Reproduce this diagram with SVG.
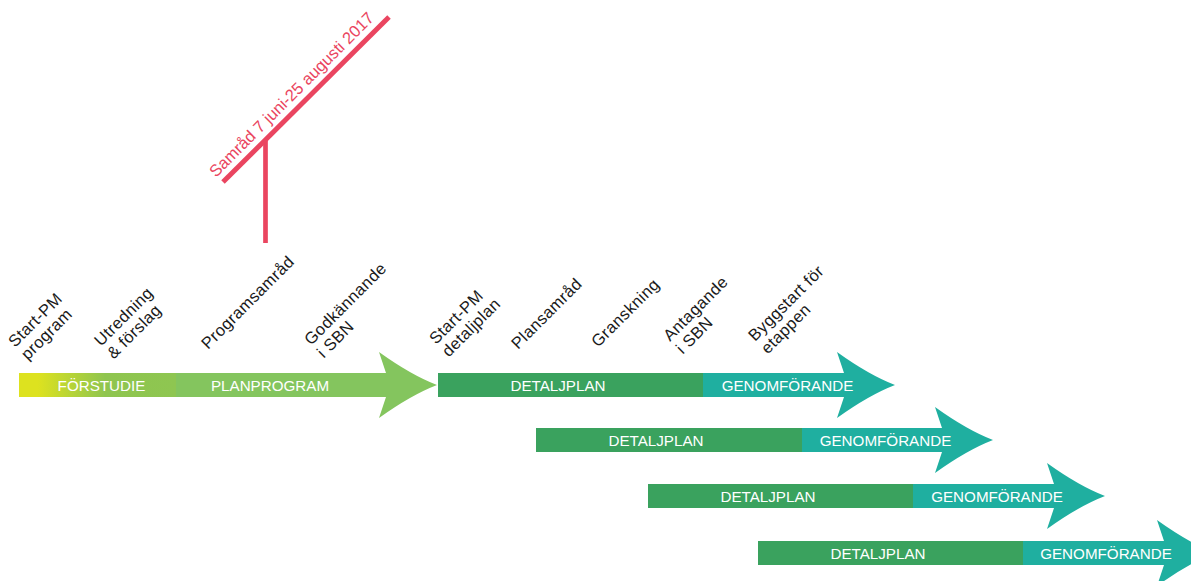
<svg xmlns="http://www.w3.org/2000/svg" width="1191" height="581" viewBox="0 0 1191 581">
<style>
.lbl{font-family:"Liberation Sans",Arial,sans-serif;font-size:16.5px;letter-spacing:0.4px;fill:#1a1a1a}
.bar{font-family:"Liberation Sans",Arial,sans-serif;font-size:15.2px;fill:#ffffff;text-anchor:middle}
.pink{font-family:"Liberation Sans",Arial,sans-serif;font-size:16.5px;fill:#ea4560}
.det{fill:#3aa25e}
.gen{fill:#1fafa0}
.plan{fill:#84c55e}
</style>
<defs>
<linearGradient id="fs" gradientUnits="userSpaceOnUse" x1="19" y1="0" x2="176" y2="0">
<stop offset="0.12" stop-color="#dde21f"/>
<stop offset="0.55" stop-color="#8fc54f"/>
<stop offset="1" stop-color="#8ec651"/>
</linearGradient>
</defs>
<rect width="1191" height="581" fill="#ffffff"/>

<g id="samrad">
<line x1="223" y1="182" x2="389" y2="17" stroke="#ea4560" stroke-width="5"/>
<line x1="265.5" y1="141" x2="265.5" y2="243" stroke="#ea4560" stroke-width="4.7"/>
<text class="pink" transform="translate(216,178) rotate(-45)">Samråd 7 juni-25 augusti 2017</text>
</g>

<g id="labels">
<text class="lbl" transform="translate(15,348) rotate(-45)"><tspan x="0" y="0">Start-PM</tspan><tspan x="0" y="18">program</tspan></text>
<text class="lbl" transform="translate(101,347) rotate(-45)"><tspan x="0" y="0">Utredning</tspan><tspan x="0" y="18">&amp; förslag</tspan></text>
<text class="lbl" transform="translate(208,350) rotate(-45)">Programsamråd</text>
<text class="lbl" transform="translate(311,346) rotate(-45)"><tspan x="0" y="0">Godkännande</tspan><tspan x="0" y="18">i SBN</tspan></text>
<text class="lbl" transform="translate(436,345) rotate(-45)"><tspan x="0" y="0">Start-PM</tspan><tspan x="0" y="18">detaljplan</tspan></text>
<text class="lbl" transform="translate(518,350) rotate(-45)">Plansamråd</text>
<text class="lbl" transform="translate(598,348) rotate(-45)">Granskning</text>
<text class="lbl" transform="translate(670,342) rotate(-45)"><tspan x="0" y="0">Antagande</tspan><tspan x="0" y="18">i SBN</tspan></text>
<text class="lbl" transform="translate(755,342) rotate(-45)"><tspan x="0" y="0">Byggstart för</tspan><tspan x="0" y="18">etappen</tspan></text>
</g>

<g id="row1-program">
<rect x="19" y="373" width="157" height="24" fill="url(#fs)"/>
<rect class="plan" x="176" y="373" width="211" height="24"/>
<path class="plan" d="M379,352 L386,373 L386,397 L379,418 Q411,395 437,385 Q411,375 379,352 Z"/>
<text class="bar" x="101.5" y="390.5">FÖRSTUDIE</text>
<text class="bar" x="270" y="390.5">PLANPROGRAM</text>
</g>

<g id="row1-detalj">
<rect class="det" x="438" y="373" width="265" height="24"/>
<rect class="gen" x="703" y="373" width="141" height="24"/>
<path class="gen" d="M837,352 L844,373 L844,397 L837,418 Q869,395 895,385 Q869,375 837,352 Z"/>
<text class="bar" x="558" y="390.5">DETALJPLAN</text>
<text class="bar" x="787.5" y="390.5">GENOMFÖRANDE</text>
</g>

<g id="row2">
<rect class="det" x="536" y="428" width="266" height="24"/>
<rect class="gen" x="802" y="428" width="140" height="24"/>
<path class="gen" d="M935,407 L942,428 L942,452 L935,473 Q967,450 993,440 Q967,430 935,407 Z"/>
<text class="bar" x="656" y="445.5">DETALJPLAN</text>
<text class="bar" x="885.5" y="445.5">GENOMFÖRANDE</text>
</g>

<g id="row3">
<rect class="det" x="648" y="484" width="265" height="24"/>
<rect class="gen" x="913" y="484" width="141" height="24"/>
<path class="gen" d="M1047,463 L1054,484 L1054,508 L1047,529 Q1079,506 1105,496 Q1079,486 1047,463 Z"/>
<text class="bar" x="768" y="501.5">DETALJPLAN</text>
<text class="bar" x="997" y="501.5">GENOMFÖRANDE</text>
</g>

<g id="row4">
<rect class="det" x="758" y="541" width="265" height="24"/>
<rect class="gen" x="1023" y="541" width="141" height="24"/>
<path class="gen" d="M1157,520 L1164,541 L1164,565 L1157,586 Q1189,563 1215,553 Q1189,543 1157,520 Z"/>
<text class="bar" x="878" y="558.5">DETALJPLAN</text>
<text class="bar" x="1106" y="558.5">GENOMFÖRANDE</text>
</g>

<g id="connectors"></g>
</svg>
